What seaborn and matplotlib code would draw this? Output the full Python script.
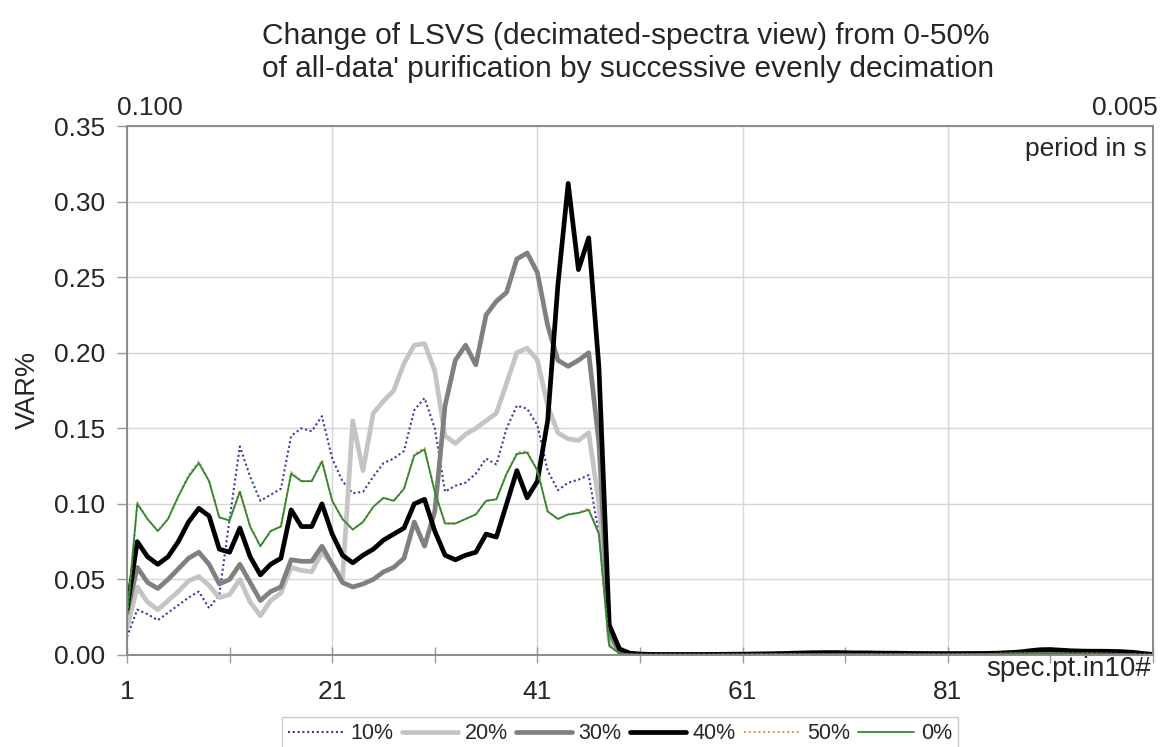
import numpy as np
import matplotlib
matplotlib.use("Agg")
import matplotlib.pyplot as plt
import seaborn as sns
from matplotlib.lines import Line2D

# ---------------- data (spectral point 1..101) ----------------
series_names = ["10%", "20%", "30%", "40%", "50%", "0%"]

v10 = [0.012, 0.030, 0.027, 0.023, 0.028, 0.033, 0.038, 0.042, 0.031, 0.040,
       0.090, 0.138, 0.118, 0.102, 0.106, 0.110, 0.145, 0.150, 0.148, 0.158,
       0.130, 0.115, 0.107, 0.108, 0.118, 0.127, 0.130, 0.135, 0.162, 0.170,
       0.150, 0.108, 0.112, 0.114, 0.120, 0.130, 0.126, 0.150, 0.165, 0.163,
       0.152, 0.122, 0.109, 0.114, 0.116, 0.119, 0.080, 0.008,
       0.001, 0.0005, 0.0003, 0.0002, 0.0002, 0.0002, 0.0002, 0.0002, 0.0002, 0.0002,
       0.0003, 0.0003, 0.0003, 0.0004, 0.0004, 0.0005, 0.0005, 0.0006, 0.0006, 0.0006,
       0.0006, 0.0006, 0.0006, 0.0006, 0.0005, 0.0005, 0.0005, 0.0005, 0.0005, 0.0005,
       0.0005, 0.0005, 0.0005, 0.0005, 0.0006, 0.0006, 0.0007, 0.0008, 0.0010, 0.0011,
       0.0012, 0.0012, 0.0011, 0.0011, 0.0010, 0.0010, 0.0010, 0.0009, 0.0008, 0.0007,
       0.0005, 0.0003, 0.0002]

v20 = [0.018, 0.045, 0.035, 0.030, 0.036, 0.042, 0.049, 0.052, 0.046, 0.038,
       0.040, 0.050, 0.035, 0.026, 0.036, 0.041, 0.058, 0.056, 0.055, 0.068,
       0.060, 0.050, 0.155, 0.122, 0.160, 0.168, 0.175, 0.193, 0.205, 0.206,
       0.188, 0.145, 0.140, 0.146, 0.150, 0.155, 0.160, 0.180, 0.200, 0.203,
       0.195, 0.165, 0.147, 0.143, 0.142, 0.147, 0.100, 0.010,
       0.002, 0.0007, 0.0004, 0.0003, 0.0003, 0.0003, 0.0003, 0.0003, 0.0003, 0.0003,
       0.0004, 0.0004, 0.0004, 0.0005, 0.0005, 0.0006, 0.0006, 0.0007, 0.0008, 0.0008,
       0.0008, 0.0008, 0.0008, 0.0007, 0.0007, 0.0007, 0.0007, 0.0006, 0.0006, 0.0006,
       0.0006, 0.0006, 0.0006, 0.0006, 0.0007, 0.0007, 0.0008, 0.0010, 0.0012, 0.0014,
       0.0015, 0.0015, 0.0014, 0.0013, 0.0013, 0.0012, 0.0012, 0.0011, 0.0010, 0.0009,
       0.0006, 0.0003, 0.0002]

v30 = [0.028, 0.058, 0.048, 0.044, 0.050, 0.057, 0.064, 0.068, 0.060, 0.047,
       0.050, 0.060, 0.048, 0.036, 0.042, 0.045, 0.063, 0.062, 0.062, 0.072,
       0.060, 0.048, 0.045, 0.047, 0.050, 0.055, 0.058, 0.064, 0.088, 0.072,
       0.095, 0.165, 0.195, 0.205, 0.192, 0.225, 0.234, 0.240, 0.262, 0.266,
       0.253, 0.218, 0.195, 0.191, 0.195, 0.200, 0.140, 0.015,
       0.002, 0.0008, 0.0005, 0.0004, 0.0004, 0.0004, 0.0004, 0.0004, 0.0004, 0.0004,
       0.0005, 0.0005, 0.0005, 0.0006, 0.0006, 0.0007, 0.0008, 0.0009, 0.0010, 0.0010,
       0.0010, 0.0010, 0.0010, 0.0009, 0.0009, 0.0009, 0.0008, 0.0008, 0.0008, 0.0008,
       0.0007, 0.0007, 0.0007, 0.0008, 0.0008, 0.0009, 0.0010, 0.0012, 0.0015, 0.0018,
       0.0020, 0.0020, 0.0018, 0.0017, 0.0016, 0.0016, 0.0015, 0.0015, 0.0014, 0.0012,
       0.0008, 0.0004, 0.0002]

v40 = [0.030, 0.075, 0.065, 0.060, 0.065, 0.075, 0.088, 0.097, 0.092, 0.070,
       0.068, 0.084, 0.065, 0.053, 0.060, 0.064, 0.096, 0.085, 0.085, 0.100,
       0.080, 0.066, 0.061, 0.066, 0.070, 0.076, 0.080, 0.084, 0.100, 0.103,
       0.082, 0.066, 0.063, 0.066, 0.068, 0.080, 0.078, 0.100, 0.122, 0.104,
       0.115, 0.155, 0.245, 0.312, 0.255, 0.276, 0.190, 0.020,
       0.004, 0.0012, 0.0006, 0.0004, 0.0003, 0.0003, 0.0003, 0.0003, 0.0003, 0.0004,
       0.0004, 0.0005, 0.0005, 0.0006, 0.0007, 0.0008, 0.0010, 0.0012, 0.0014, 0.0015,
       0.0016, 0.0016, 0.0015, 0.0014, 0.0014, 0.0013, 0.0012, 0.0012, 0.0011, 0.0010,
       0.0010, 0.0009, 0.0009, 0.0009, 0.0010, 0.0010, 0.0011, 0.0012, 0.0015, 0.0020,
       0.0028, 0.0035, 0.0036, 0.0032, 0.0028, 0.0026, 0.0025, 0.0025, 0.0024, 0.0022,
       0.0018, 0.0010, 0.0004]

v50 = [0.025, 0.101, 0.090, 0.082, 0.090, 0.105, 0.119, 0.128, 0.115, 0.091,
       0.089, 0.109, 0.085, 0.072, 0.082, 0.085, 0.121, 0.115, 0.115, 0.129,
       0.102, 0.090, 0.083, 0.088, 0.098, 0.104, 0.102, 0.110, 0.133, 0.137,
       0.108, 0.087, 0.087, 0.090, 0.093, 0.102, 0.103, 0.120, 0.134, 0.135,
       0.122, 0.095, 0.090, 0.093, 0.094, 0.097, 0.080, 0.006,
       0.001, 0.0005, 0.0003, 0.0002, 0.0002, 0.0002, 0.0002, 0.0002, 0.0002, 0.0002,
       0.0003, 0.0003, 0.0003, 0.0004, 0.0004, 0.0005, 0.0005, 0.0006, 0.0006, 0.0006,
       0.0006, 0.0006, 0.0006, 0.0006, 0.0005, 0.0005, 0.0005, 0.0005, 0.0005, 0.0005,
       0.0005, 0.0005, 0.0005, 0.0005, 0.0006, 0.0006, 0.0007, 0.0008, 0.0010, 0.0011,
       0.0012, 0.0012, 0.0011, 0.0011, 0.0010, 0.0010, 0.0010, 0.0009, 0.0008, 0.0007,
       0.0005, 0.0003, 0.0002]

v0 = [0.025, 0.100, 0.090, 0.082, 0.090, 0.105, 0.118, 0.127, 0.115, 0.091,
      0.089, 0.108, 0.085, 0.072, 0.082, 0.085, 0.120, 0.115, 0.115, 0.128,
      0.102, 0.090, 0.083, 0.088, 0.098, 0.104, 0.102, 0.110, 0.132, 0.136,
      0.108, 0.087, 0.087, 0.090, 0.093, 0.102, 0.103, 0.120, 0.133, 0.134,
      0.122, 0.095, 0.090, 0.093, 0.094, 0.096, 0.080, 0.006,
      0.001, 0.0005, 0.0003, 0.0002, 0.0002, 0.0002, 0.0002, 0.0002, 0.0002, 0.0002,
      0.0003, 0.0003, 0.0003, 0.0004, 0.0004, 0.0005, 0.0005, 0.0006, 0.0006, 0.0006,
      0.0006, 0.0006, 0.0006, 0.0006, 0.0005, 0.0005, 0.0005, 0.0005, 0.0005, 0.0005,
      0.0005, 0.0005, 0.0005, 0.0005, 0.0006, 0.0006, 0.0007, 0.0008, 0.0010, 0.0011,
      0.0012, 0.0012, 0.0011, 0.0011, 0.0010, 0.0010, 0.0010, 0.0009, 0.0008, 0.0007,
      0.0005, 0.0003, 0.0002]

x_tick_values = [1, 21, 41, 61, 81, 101]
x_tick_labels = ["1", "21", "41", "61", "81", ""]
y_tick_values = [0.00, 0.05, 0.10, 0.15, 0.20, 0.25, 0.30, 0.35]

title_lines = ["Change of LSVS (decimated-spectra view) from 0-50%",
               "of all-data' purification by successive evenly decimation"]

# ---------------- styling ----------------
sns.set_theme(style="white")
plt.rcParams['font.family'] = ['Liberation Sans', 'DejaVu Sans']
TXT = "#262626"

styles = {
    "10%": dict(color="#3b3ba0", lw=1.5, ls=(0, (1.0, 1.3))),
    "20%": dict(color="#c4c4c4", lw=3.4, ls="-"),
    "30%": dict(color="#808080", lw=3.4, ls="-"),
    "40%": dict(color="#000000", lw=3.4, ls="-"),
    "50%": dict(color="#e39a6a", lw=1.5, ls=(0, (1.0, 1.3))),
    "0%":  dict(color="#2f8a2f", lw=1.3, ls="-"),
}

W, H = 1162, 747
fig = plt.figure(figsize=(W / 100, H / 100), dpi=100)
ax = fig.add_axes([127 / W, 1 - 655 / H, (1153 - 127) / W, (655 - 126) / H])

all_vals = [v10, v20, v30, v40, v50, v0]
handles = []
for name, vals in zip(series_names, all_vals):
    st = styles[name]
    x = np.arange(1, len(vals) + 1)
    sns.lineplot(x=x, y=vals, ax=ax, color=st["color"], linewidth=st["lw"],
                 linestyle=st["ls"], legend=False, estimator=None,
                 solid_joinstyle="round", solid_capstyle="round")
    handles.append(Line2D([0], [0], color=st["color"], lw=st["lw"],
                          linestyle=st["ls"], label=name))

ax.set_xlim(1, 101)
ax.set_ylim(0, 0.35)
ax.set_xticks(x_tick_values)
ax.set_xticklabels(x_tick_labels)
ax.set_xticks([11, 31, 51, 71, 91], minor=True)
ax.set_yticks(y_tick_values)
ax.set_yticklabels([f"{v:.2f}" for v in y_tick_values])
ax.set_xlabel("")
ax.set_ylabel("")

ax.grid(True, which="major", color="#d6d6d6", lw=1.0)
ax.set_axisbelow(True)
for sp in ax.spines.values():
    sp.set_visible(True)
    sp.set_color("#8a8a8a")
    sp.set_linewidth(1.4)

ax.tick_params(axis="x", which="both", direction="inout", length=12, width=1,
               color="#9a9a9a", labelsize=19, labelcolor=TXT, pad=12, bottom=True)
ax.tick_params(axis="y", which="major", direction="out", length=7, width=1,
               color="#9a9a9a", labelsize=19, labelcolor=TXT, pad=9, left=True)

# titles and annotations
fig.text(626 / W, 1 - 36 / H, title_lines[0], ha="center", va="center", fontsize=21.5, color=TXT)
fig.text(628 / W, 1 - 69 / H, title_lines[1], ha="center", va="center", fontsize=21.5, color=TXT)
fig.text(28 / W, 1 - 390 / H, "VAR%", rotation=90, ha="center", va="center", fontsize=19.5, color=TXT)
fig.text(117 / W, 1 - 108 / H, "0.100", ha="left", va="center", fontsize=19, color=TXT)
fig.text(1158 / W, 1 - 108 / H, "0.005", ha="right", va="center", fontsize=19, color=TXT)
fig.text(1147 / W, 1 - 149 / H, "period in s", ha="right", va="center", fontsize=19, color=TXT)
fig.text(1151 / W, 1 - 669 / H, "spec.pt.in10#", ha="right", va="center", fontsize=20, color=TXT)

leg = fig.legend(handles=handles, loc="upper center", bbox_to_anchor=(620 / W, 1 - 717 / H),
                 ncol=6, frameon=True, fancybox=False, edgecolor="#bdbdbd", fontsize=15.5,
                 handlelength=2.6, handletextpad=0.3, columnspacing=0.4,
                 borderpad=0.3, borderaxespad=0)
for t in leg.get_texts():
    t.set_color(TXT)
leg.get_frame().set_linewidth(1.0)

fig.savefig("out.png", dpi=100, facecolor="white")
